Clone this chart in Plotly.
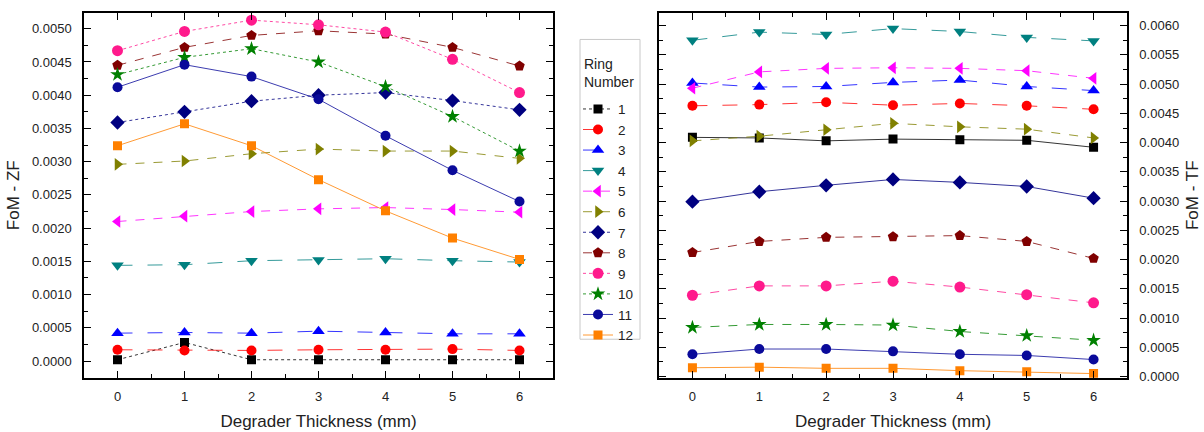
import plotly.graph_objects as go

thickness = [0, 1, 2, 3, 4, 5, 6]
rings = ["1", "2", "3", "4", "5", "6", "7", "8", "9", "10", "11", "12"]

fom_zf = {
    "1":  [0.00002, 0.00028, 0.00002, 0.00002, 0.00002, 0.00002, 0.00002],
    "2":  [0.00017, 0.00016, 0.00016, 0.00017, 0.00017, 0.00018, 0.00016],
    "3":  [0.00042, 0.00043, 0.00042, 0.00045, 0.00043, 0.00041, 0.00041],
    "4":  [0.00144, 0.00145, 0.00151, 0.00152, 0.00154, 0.00151, 0.00149],
    "5":  [0.00210, 0.00218, 0.00225, 0.00229, 0.00231, 0.00228, 0.00224],
    "6":  [0.00296, 0.00301, 0.00312, 0.00319, 0.00316, 0.00316, 0.00305],
    "7":  [0.00359, 0.00375, 0.00391, 0.00400, 0.00404, 0.00392, 0.00378],
    "8":  [0.00445, 0.00472, 0.00490, 0.00497, 0.00492, 0.00472, 0.00444],
    "9":  [0.00467, 0.00496, 0.00513, 0.00506, 0.00495, 0.00454, 0.00404],
    "10": [0.00431, 0.00457, 0.00470, 0.00450, 0.00413, 0.00368, 0.00316],
    "11": [0.00412, 0.00446, 0.00428, 0.00394, 0.00339, 0.00287, 0.00240],
    "12": [0.00324, 0.00357, 0.00324, 0.00273, 0.00226, 0.00185, 0.00153],
}

fom_tf = {
    "1":  [0.00409, 0.00408, 0.00403, 0.00406, 0.00405, 0.00404, 0.00392],
    "2":  [0.00463, 0.00465, 0.00469, 0.00464, 0.00467, 0.00463, 0.00457],
    "3":  [0.00502, 0.00495, 0.00496, 0.00503, 0.00507, 0.00496, 0.00489],
    "4":  [0.00575, 0.00589, 0.00585, 0.00595, 0.00590, 0.00580, 0.00574],
    "5":  [0.00493, 0.00521, 0.00527, 0.00528, 0.00527, 0.00523, 0.00510],
    "6":  [0.00403, 0.00411, 0.00422, 0.00433, 0.00427, 0.00423, 0.00408],
    "7":  [0.00299, 0.00316, 0.00327, 0.00337, 0.00332, 0.00325, 0.00305],
    "8":  [0.00212, 0.00231, 0.00238, 0.00239, 0.00241, 0.00231, 0.00202],
    "9":  [0.00139, 0.00155, 0.00155, 0.00163, 0.00153, 0.00140, 0.00126],
    "10": [0.00084, 0.00089, 0.00089, 0.00088, 0.00077, 0.00070, 0.00062],
    "11": [0.00038, 0.00047, 0.00047, 0.00043, 0.00038, 0.00036, 0.00029],
    "12": [0.00015, 0.00016, 0.00014, 0.00014, 0.00010, 0.00008, 0.00005],
}

colors = ["#000000", "#ff0000", "#0000ff", "#008080", "#ff00ff", "#808000",
          "#000080", "#800000", "#ff1a8c", "#008000", "#0a0a9a", "#ff8000"]
symbols = ["square", "circle", "triangle-up", "triangle-down", "triangle-left",
           "triangle-right", "diamond", "pentagon", "circle", "star", "circle", "square"]
sizes = [9, 10, 11, 11, 11, 11, 11, 11, 11, 11, 10, 9]
dashes_zf = ["dot", "longdash", "longdash", "longdash", "dash", "dash",
             "dot", "dash", "dot", "dot", "solid", "solid"]
dashes_tf = ["solid", "longdash", "longdash", "longdash", "dash", "dash",
             "solid", "dash", "dash", "dash", "solid", "solid"]

fig = go.Figure()
for i, r in enumerate(rings):
    fig.add_trace(go.Scatter(
        x=thickness, y=fom_zf[r], name=r, mode="lines+markers",
        legendgroup=r, showlegend=True,
        line=dict(color=colors[i], width=0.8, dash=dashes_zf[i]),
        marker=dict(symbol=symbols[i], color=colors[i], size=sizes[i], line=dict(width=0)),
        xaxis="x", yaxis="y"))
for i, r in enumerate(rings):
    fig.add_trace(go.Scatter(
        x=thickness, y=fom_tf[r], name=r, mode="lines+markers",
        legendgroup=r, showlegend=False,
        line=dict(color=colors[i], width=0.8, dash=dashes_tf[i]),
        marker=dict(symbol=symbols[i], color=colors[i], size=sizes[i], line=dict(width=0)),
        xaxis="x2", yaxis="y2"))

W, H = 1204, 432
font = "Liberation Sans, Arial, sans-serif"
tickfont = dict(family=font, size=13, color="#222222")
titlefont = dict(family=font, size=17, color="#222222")

common_x = dict(range=[-0.5, 6.5], dtick=1, tick0=0, ticks="inside", ticklen=7, tickwidth=1.2,
                tickcolor="black", showline=True, linecolor="black", linewidth=1.5,
                mirror="allticks", showgrid=False, zeroline=False, tickfont=tickfont,
                minor=dict(dtick=0.5, tick0=0, ticks="inside", ticklen=4, tickwidth=1.2,
                           tickcolor="black", showgrid=False),
                ticklabelstandoff=6)
common_y = dict(dtick=0.0005, tick0=0, tickformat=".4f", ticks="inside", ticklen=7,
                tickwidth=1.2, tickcolor="black", showline=True, linecolor="black",
                linewidth=1.5, mirror="allticks", showgrid=False, zeroline=False,
                tickfont=tickfont,
                minor=dict(dtick=0.00025, tick0=0, ticks="inside", ticklen=4, tickwidth=1.2,
                           tickcolor="black", showgrid=False),
                ticklabelstandoff=8)

fig.update_layout(
    width=W, height=H,
    margin=dict(l=0, r=0, t=0, b=0),
    paper_bgcolor="white", plot_bgcolor="white",
    font=dict(family=font, color="#222222"),
    xaxis=dict(domain=[84 / W, 553 / W], anchor="y",
               title=dict(text="Degrader Thickness (mm)", font=titlefont, standoff=12),
               **common_x),
    yaxis=dict(domain=[49 / H, 419 / H], anchor="x", range=[-0.00025, 0.00524],
               title=dict(text="FoM - ZF", font=titlefont, standoff=8),
               **common_y),
    xaxis2=dict(domain=[659 / W, 1127 / W], anchor="y2",
                title=dict(text="Degrader Thickness (mm)", font=titlefont, standoff=12),
                **common_x),
    yaxis2=dict(domain=[49 / H, 419 / H], anchor="x2", side="right",
                range=[-0.00002, 0.00622],
                title=dict(text="FoM - TF", font=titlefont, standoff=8),
                **common_y),
    legend=dict(x=578 / W, y=1 - 95 / H, xanchor="left", yanchor="top",
                bgcolor="rgba(0,0,0,0)", borderwidth=0,
                font=dict(family=font, size=13.5, color="#222222"),
                tracegroupgap=0, itemwidth=30),
    showlegend=True,
    shapes=[dict(type="rect", xref="paper", yref="paper",
                 x0=580 / W, x1=640 / W, y0=1 - 344 / H, y1=1 - 40 / H,
                 line=dict(color="#c8c8c8", width=1), fillcolor="rgba(0,0,0,0)",
                 layer="below")],
    annotations=[dict(text="Ring<br>Number", xref="paper", yref="paper",
                      x=582 / W, y=1 - 55 / H, xanchor="left", yanchor="top",
                      align="left", showarrow=False,
                      font=dict(family=font, size=14, color="#222222"))],
)

fig.write_html("out.html")
